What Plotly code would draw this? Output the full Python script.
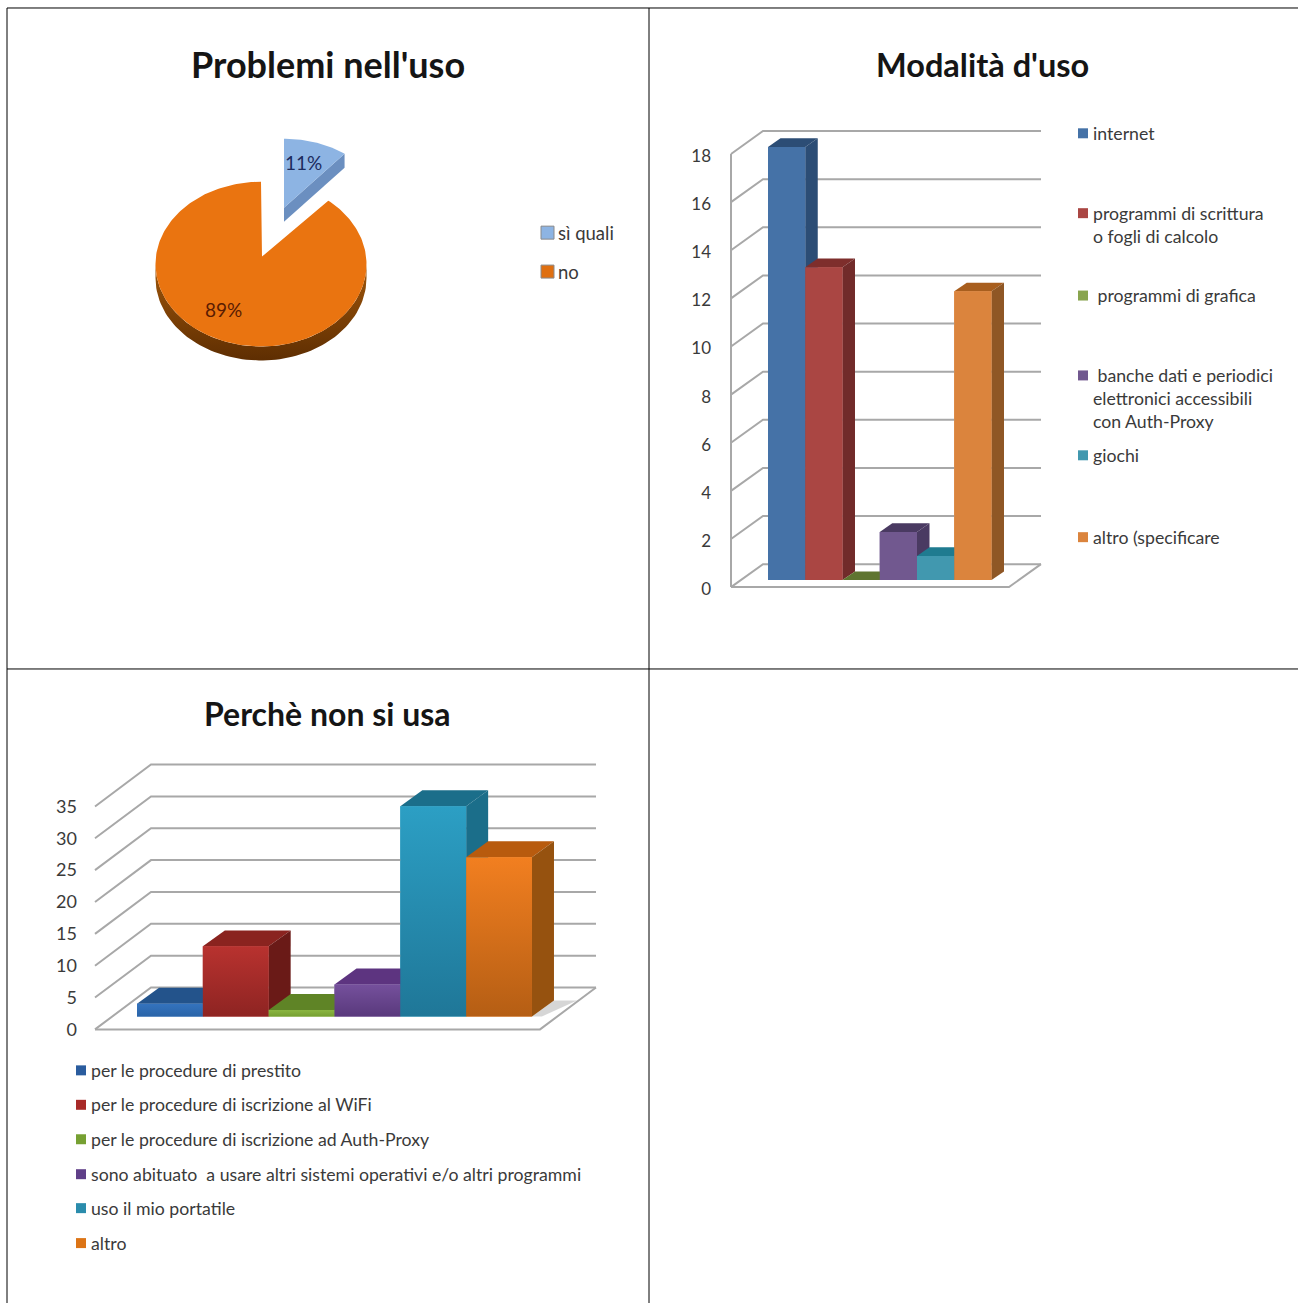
import numpy as np
import plotly.graph_objects as go

W, H = 1298, 1305
PAGE_H = 1309
FONT = "Lato"

# ---------- data ----------
pie_labels = ["sì quali", "no"]
pie_values = [11, 89]
pie_titles = "Problemi nell'uso"

mod_title = "Modalità d'uso"
mod_labels = ["internet",
              "programmi di scrittura<br>o fogli di calcolo",
              "\u00a0programmi di grafica",
              "\u00a0banche dati e periodici<br>elettronici accessibili<br>con Auth-Proxy",
              "giochi",
              "altro (specificare"]
mod_values = [18, 13, 0, 2, 1, 12]
mod_ticks = [0, 2, 4, 6, 8, 10, 12, 14, 16, 18]

non_title = "Perchè non si usa"
non_labels = ["per le procedure di prestito",
              "per le procedure di iscrizione al WiFi",
              "per le procedure di iscrizione ad Auth-Proxy",
              "sono abituato  a usare altri sistemi operativi e/o altri programmi",
              "uso il mio portatile",
              "altro"]
non_values = [2, 11, 1, 5, 33, 25]
non_ticks = [0, 5, 10, 15, 20, 25, 30, 35]

# ---------- styles ----------
mod_style = dict(
    front=[("#4572A7", "#4572A7"), ("#AA4643", "#AA4643"), ("#89A54E", "#89A54E"),
           ("#71588F", "#71588F"), ("#4198AF", "#4198AF"), ("#DB843D", "#DB843D")],
    top=["#2C4D75", "#7E2E2C", "#5F7530", "#4A3A62", "#1F7B90", "#A85E1E"],
    side=["#2C4D75", "#712B2A", "#5F7530", "#4A3A62", "#2A6A7D", "#8F5725"],
)
non_style = dict(
    front=[("#3473BE", "#2A64A8"), ("#B8322F", "#8E2422"), ("#8AB640", "#76A032"),
           ("#75509C", "#59397C"), ("#2C9FC4", "#1F7798"), ("#F27F20", "#B55E14")],
    top=["#23538B", "#8A231F", "#5F8426", "#5D3480", "#1B6E8A", "#B85B0E"],
    side=["#23538B", "#6A1A17", "#5F8426", "#4D2C6C", "#1B6E8A", "#96520F"],
)
swatch_mod = ["#4572A7", "#AA4643", "#89A54E", "#71588F", "#4198AF", "#DB843D"]
swatch_non = ["#2A5C9E", "#A82A28", "#76A032", "#5F3F88", "#2A8CAC", "#DC7416"]
GRID = "#A8A8A8"
TXT = "#3A3A3A"


def px_x(px):
    return px / W


def px_y(py):
    return 1 - py / H


fig = go.Figure()


def poly(xs, ys, xa, ya, color=None, grad=None):
    kw = dict(x=xs, y=ys, xaxis=xa, yaxis=ya, mode="lines", fill="toself",
              line=dict(width=0), hoverinfo="skip", showlegend=False)
    if grad:
        kw["fillgradient"] = dict(type="vertical", colorscale=[[0, grad[1]], [1, grad[0]]])
        kw["fillcolor"] = grad[0]
    else:
        kw["fillcolor"] = color
    fig.add_trace(go.Scatter(**kw))


def bar_chart(values, ticks, style, names, xa, ya, g):
    xn, yn = ("xaxis" + xa[1:], "yaxis" + ya[1:])
    X = lambda p: (p - g["bar_left"]) / g["bar_w"] - 0.5
    Y = lambda p: (g["y0"] - p) / g["upp"]
    ddx, ddy = g["dx"] / g["bar_w"], g["dy"] / g["upp"]
    bdx, bdy = g["back_dx"] / g["bar_w"], g["back_dy"] / g["upp"]
    base = Y(g["base"])
    x0, x1 = X(g["x0"]), X(g["x1"])

    fig.update_layout({
        xn: dict(domain=[px_x(g["x0"] - 2), px_x(g["x1"] + g["back_dx"] + 2)],
                 range=[X(g["x0"] - 2), X(g["x1"] + g["back_dx"] + 2)],
                 visible=False, fixedrange=True, anchor=ya),
        yn: dict(domain=[px_y(g["y0"] + 6), px_y(g["y_top"])],
                 range=[Y(g["y0"] + 6), Y(g["y_top"])],
                 tickmode="array", tickvals=ticks, ticktext=[str(t) for t in ticks],
                 showgrid=False, zeroline=False, showline=False, ticks="",
                 ticklabelstandoff=g["standoff"], ticklabelshift=g["shift"],
                 tickfont=dict(family=FONT, size=g["tick_size"], color=TXT),
                 fixedrange=True, anchor=xa),
    })

    gx, gy = [], []
    for t in ticks:
        gx += [x0, x0 + bdx, x1 + bdx, None]
        gy += [t, t + bdy, t + bdy, None]
    gx += [x0, x1, x1 + bdx, None]
    gy += [0, 0, bdy, None]
    if g["axis"]:
        gx += [x0, x0]
        gy += [0, ticks[-1]]
    fig.add_trace(go.Scatter(x=gx, y=gy, xaxis=xa, yaxis=ya, mode="lines",
                             line=dict(color=GRID, width=g["grid_w"]),
                             hoverinfo="skip", showlegend=False))

    idx = list(range(len(values)))
    fig.add_trace(go.Bar(x=idx, y=values, base=base, width=1, xaxis=xa, yaxis=ya,
                         marker=dict(color=[c[0] for c in style["front"]], line=dict(width=0)),
                         text=names, textposition="none", showlegend=False))
    if g["shadow"]:
        i = idx[-1]
        xr = i + 0.5
        poly([xr, xr + ddx, xr + ddx + 0.35, xr + 0.15],
             [base, base + ddy, base + ddy, base], xa, ya, color="rgba(120,120,120,0.30)")
    for i, v in zip(idx, values):
        xl, xr = i - 0.5, i + 0.5
        t = base + v
        poly([xl, xr, xr + ddx, xl + ddx], [t, t, t + ddy, t + ddy], xa, ya, color=style["top"][i])
        poly([xr, xr + ddx, xr + ddx, xr], [t, t + ddy, base + ddy, base], xa, ya, color=style["side"][i])
        if v > 0:
            poly([xl, xr, xr, xl], [base, base, t, t], xa, ya, grad=style["front"][i])


bar_chart(mod_values, mod_ticks, mod_style, mod_labels, "x", "y",
          dict(x0=731, x1=1009, back_dx=32, back_dy=23, y0=588, upp=24.1, y_top=125,
               bar_left=768, bar_w=37.25, base=581, dx=12.5, dy=8.7, standoff=17, shift=2,
               tick_size=17, axis=True, shadow=False, grid_w=2))
bar_chart(non_values, non_ticks, non_style, non_labels, "x2", "y2",
          dict(x0=95, x1=540, back_dx=56, back_dy=42, y0=1031, upp=6.38, y_top=760,
               bar_left=137, bar_w=65.83, base=1018, dx=22, dy=16, standoff=15, shift=0,
               tick_size=18, axis=False, shadow=True, grid_w=2))

# ---------- pie ----------
CX, CY, RX, RY = 261, 264.5, 105.5, 82.5
PY = lambda p: (CY - p) / RY
PX = lambda p: (p - CX) / RX
fig.update_layout(
    xaxis3=dict(domain=[px_x(140), px_x(390)], range=[PX(140), PX(390)], visible=False,
                fixedrange=True, anchor="y3"),
    yaxis3=dict(domain=[px_y(375), px_y(125)], range=[PY(375), PY(125)], visible=False,
                fixedrange=True, anchor="x3"),
)
share = np.array(pie_values, dtype=float) / sum(pie_values)
t_split = share[0] * 2 * np.pi
RIM = 14 / RY

t = np.linspace(np.pi / 2, 3 * np.pi / 2, 80)
rx_, ry_ = np.sin(t), np.cos(t)
poly(np.r_[rx_, rx_[::-1]], np.r_[ry_, ry_[::-1] - RIM], "x3", "y3",
     grad=("#A0560A", "#5E2E02"))

t = np.linspace(t_split, 2 * np.pi, 240)
poly(np.r_[PX(262), np.sin(t)], np.r_[PY(257), np.cos(t)], "x3", "y3", color="#EA7410")

# exploded slice
sx, sy, srx, sry = PX(284), PY(204), 95 / RX, 65 / RY
ax, ay = PX(284), PY(208)
tipx, tipy = sx + srx * np.sin(t_split), sy + sry * np.cos(t_split)
poly([ax, tipx, tipx, ax], [ay, tipy, tipy - RIM, ay - RIM], "x3", "y3", color="#6B8FC0")
t = np.linspace(0, t_split, 40)
poly(np.r_[ax, sx + srx * np.sin(t)], np.r_[ay, sy + sry * np.cos(t)], "x3", "y3", color="#8DB4E3")

# ---------- text helpers ----------
annotations = []
shapes = []


def label(text, x, y, size, color=TXT, bold=False, anchor="left"):
    annotations.append(dict(text=f"<b>{text}</b>" if bold else text,
                            x=px_x(x), y=px_y(y), xref="paper", yref="paper",
                            xanchor=anchor, yanchor="middle", showarrow=False,
                            font=dict(family=FONT, size=size, color=color)))


def square(x0, x1, y, color, border=None):
    h = (x1 - x0) / 2
    shapes.append(dict(type="rect", xref="paper", yref="paper",
                       x0=px_x(x0), x1=px_x(x1), y0=px_y(y + h), y1=px_y(y - h),
                       fillcolor=color,
                       line=dict(color=border or color, width=1 if border else 0)))


label(pie_titles, 327.5, 64.5, 36, "#151515", True, "center")
label(mod_title, 982, 65, 32.5, "#151515", True, "center")
label(non_title, 327, 714.5, 32, "#151515", True, "center")

label(f"{pie_values[0]}%", 303, 162.5, 19, "#1C2B5E", anchor="center")
label(f"{pie_values[1]}%", 223, 310, 19, "#5A1C02", anchor="center")

for name, y, c, b in zip(pie_labels, [233, 272], ["#8DB4E3", "#DF6F10"], ["#8A8A8A", "#8A8A8A"]):
    square(541, 554, y, c, b)
    label(name, 556, y, 18.5)

mod_y = [133.5, 213.5, 296, 376, 456, 538]
for name, y, c in zip(mod_labels, mod_y, swatch_mod):
    square(1078, 1088, y, c)
    for k, line in enumerate(name.split("<br>")):
        label(line, 1091, y + 23 * k, 17.7)

non_y = [1072, 1106.5, 1141, 1176, 1210, 1245]
for name, y, c in zip(non_labels, non_y, swatch_non):
    square(76, 86, y, c)
    label(name.replace("  ", "\u00a0\u00a0"), 89, y, 17.7)

# frame of the page table
for x0, y0, x1, y1 in [(7, 8, 1298, 8), (7, 8, 7, 1305), (649, 8, 649, 1305), (7, 670, 1298, 670)]:
    shapes.append(dict(type="line", xref="paper", yref="paper",
                       x0=px_x(x0), x1=px_x(x1), y0=px_y(y0), y1=px_y(y1),
                       line=dict(color="#000000", width=1)))

fig.update_layout(width=W, height=PAGE_H, margin=dict(l=0, r=0, t=0, b=0, pad=0),
                  autosize=False, paper_bgcolor="white", plot_bgcolor="rgba(0,0,0,0)",
                  showlegend=False, barmode="overlay",
                  annotations=annotations, shapes=shapes)

fig.write_html("out.html", config=dict(displayModeBar=False),
               post_script="document.body.style.margin='0';document.documentElement.style.overflow='hidden';")
